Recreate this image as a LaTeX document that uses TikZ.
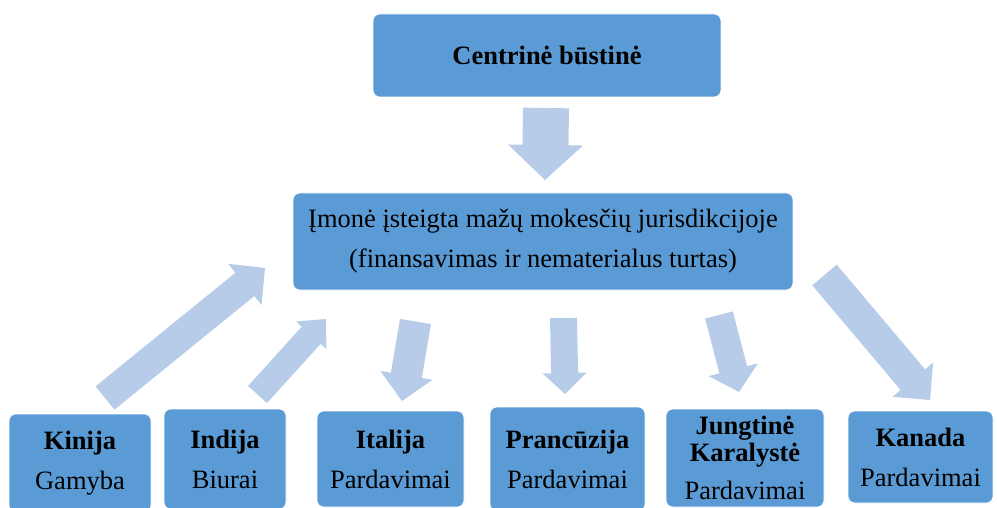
\documentclass[tikz,border=0pt]{standalone}
\usepackage{fontspec}
\setmainfont{Liberation Serif}
\usepackage{xcolor}
\usepackage{tikz}
\usetikzlibrary{calc, positioning}

\definecolor{hopxanh}{RGB}{91,155,213}
\definecolor{muixanh}{RGB}{183,204,232}

% mui ten khoi: duoi, dinh, nua than, nua dau, dai dau
\newcommand{\muiten}[5]{%
    \path ($(#2)!#5!(#1)$) coordinate (goc);
    \fill[muixanh] ($(#1)!#3!90:(#2)$) -- ($(goc)!#3!90:(#2)$) -- ($(goc)!#4!90:(#2)$)
        -- (#2) -- ($(goc)!#4!-90:(#2)$) -- ($(goc)!#3!-90:(#2)$) -- ($(#1)!#3!-90:(#2)$) -- cycle;
}

\begin{document}
\begin{tikzpicture}[x=1pt, y=-1pt,
    hop/.style={fill=hopxanh, draw=white, line width=0.6pt, rounded corners=7pt,
        align=center, inner sep=0pt, font=\fontsize{26.5}{40}\selectfont}]
    \useasboundingbox (0,0) rectangle (997,508);
    \clip (0,0) rectangle (997,508);

    % Cac hop
    \node[hop, minimum width=348pt, minimum height=83pt] (hq) at (547,55.5) {\textbf{Centrinė būstinė}};
    \node[hop, minimum width=500pt, minimum height=97pt] (jur) at (543,241.5)
        {Įmonė įsteigta mažų mokesčių jurisdikcijoje\\(finansavimas ir nematerialus turtas)};
    \node[hop, minimum width=142pt, minimum height=98pt] (kinija) at (80,463) {\textbf{Kinija}\\Gamyba};
    \node[hop, minimum width=122pt, minimum height=100pt] (indija) at (225,459) {\textbf{Indija}\\Biurai};
    \node[hop, minimum width=147pt, minimum height=96pt] (italija) at (390.5,459) {\textbf{Italija}\\Pardavimai};
    \node[hop, minimum width=155pt, minimum height=104pt] (pranc) at (567.5,459) {\textbf{Prancūzija}\\Pardavimai};
    \node[hop, minimum width=158pt, minimum height=98pt] (jk) at (745,458)
        {\textbf{Jungtinė}\\[-13pt]\textbf{Karalystė}\\[-2pt]Pardavimai};
    \node[hop, minimum width=145pt, minimum height=92pt] (kanada) at (920.5,457) {\textbf{Kanada}\\Pardavimai};

    % Cac mui ten
    \coordinate (t0) at (546,108);   \coordinate (p0) at (545,180);
    \coordinate (t1) at (105,398);   \coordinate (p1) at (265,268);
    \coordinate (t2) at (257.5,394.5); \coordinate (p2) at (326,319);
    \coordinate (t3) at (415.5,321.5); \coordinate (p3) at (402,401);
    \coordinate (t4) at (563.5,318); \coordinate (p4) at (565,394);
    \coordinate (t5) at (719,315);   \coordinate (p5) at (739,392);
    \coordinate (t6) at (824.5,275); \coordinate (p6) at (930,400);

    \muiten{t0}{p0}{23pt}{37.5pt}{35pt}
    \muiten{t1}{p1}{15pt}{26.5pt}{26pt}
    \muiten{t2}{p2}{12.75pt}{20.5pt}{22pt}
    \muiten{t3}{p3}{15.7pt}{26.4pt}{26pt}
    \muiten{t4}{p4}{13.5pt}{22pt}{21pt}
    \muiten{t5}{p5}{14.3pt}{25.5pt}{23pt}
    \muiten{t6}{p6}{16pt}{26.5pt}{26.6pt}

\end{tikzpicture}
\end{document}
